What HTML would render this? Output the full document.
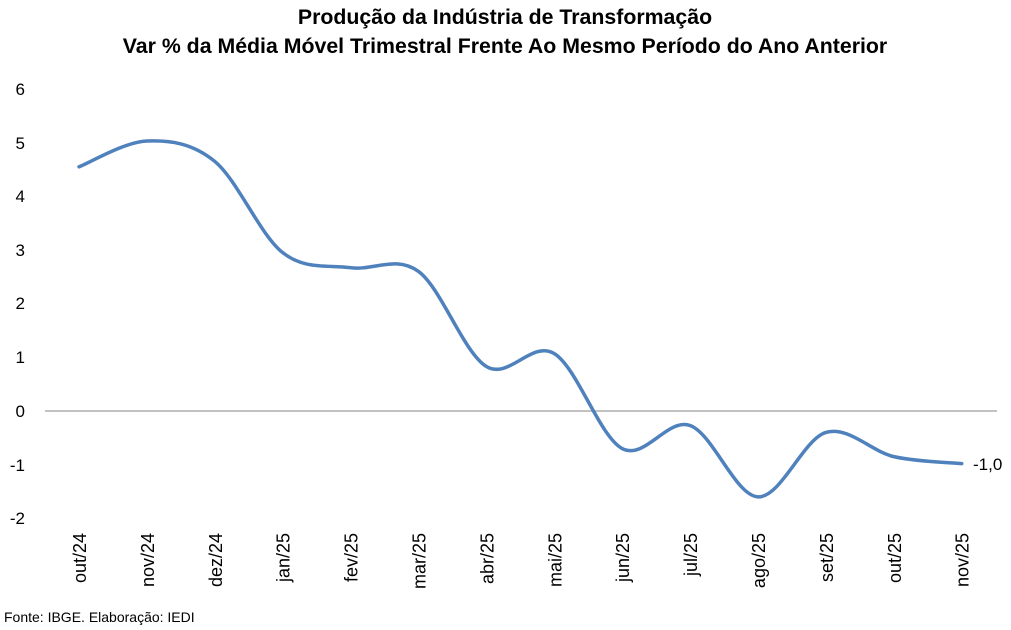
<!DOCTYPE html>
<html><head><meta charset="utf-8"><style>
html,body{margin:0;padding:0;background:#fff;}
svg{display:block;font-family:"Liberation Sans",sans-serif;}
</style></head><body>
<svg id="s" width="1011" height="630" viewBox="0 0 1011 630">
<text x="505" y="24" text-anchor="middle" font-size="21.3" font-weight="bold" fill="#000">Produção da Indústria de Transformação</text>
<text x="505" y="53" text-anchor="middle" font-size="21.3" font-weight="bold" fill="#000">Var % da Média Móvel Trimestral Frente Ao Mesmo Período do Ano Anterior</text>
<g font-size="17" fill="#000" text-anchor="end">
<text x="25" y="95">6</text><text x="25" y="149">5</text><text x="25" y="202">4</text>
<text x="25" y="256">3</text><text x="25" y="309">2</text><text x="25" y="363">1</text>
<text x="25" y="417">0</text><text x="25" y="471">-1</text><text x="25" y="524">-2</text>
</g>
<line x1="45" y1="411" x2="997" y2="411" stroke="#868686" stroke-width="1"/>
<g id="xl" font-size="18" fill="#000" text-anchor="end"></g>
<path id="p" fill="none" stroke="#4f81bd" stroke-width="3.5" stroke-linecap="round"/>
<text x="973" y="470" font-size="17" fill="#000">-1,0</text>
<text x="4" y="622" font-size="14" fill="#000">Fonte: IBGE. Elaboração: IEDI</text>
</svg>
<script>
var labs=["out/24","nov/24","dez/24","jan/25","fev/25","mar/25","abr/25","mai/25","jun/25","jul/25","ago/25","set/25","out/25","nov/25"];
var v=[4.55,5.03,4.65,2.95,2.67,2.6,0.83,1.07,-0.7,-0.27,-1.6,-0.4,-0.85,-0.98];
var g=document.getElementById("xl"),h="",P=[];
for(var i=0;i<14;i++){var x=79+i*67.9;P.push([x,411-53.67*v[i]]);
h+='<text transform="translate('+(x+7)+',533) rotate(-90)">'+labs[i]+'</text>';}
g.innerHTML=h;
var d="M"+P[0][0]+","+P[0][1];
for(var i=0;i<13;i++){var p0=P[i-1]||P[i],p1=P[i],p2=P[i+1],p3=P[i+2]||P[i+1];
var c1=[p1[0]+(p2[0]-p0[0])/6,p1[1]+(p2[1]-p0[1])/6],c2=[p2[0]-(p3[0]-p1[0])/6,p2[1]-(p3[1]-p1[1])/6];
d+=" C"+c1+" "+c2+" "+p2;}
document.getElementById("p").setAttribute("d",d);
</script>
</body></html>
